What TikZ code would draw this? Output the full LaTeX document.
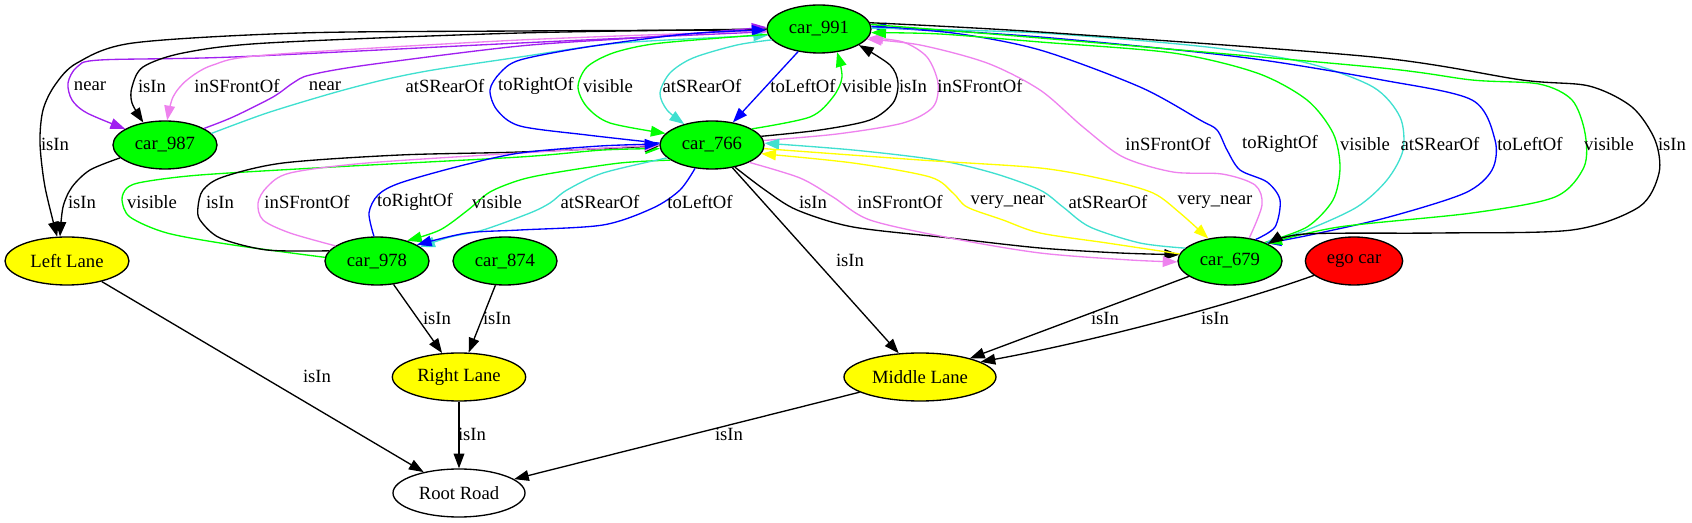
\documentclass[tikz,border=0pt]{standalone}
\usepackage{fontspec}
\setmainfont{Liberation Serif}
\usepackage{xcolor}
\usetikzlibrary{shapes.geometric, arrows.meta, positioning}
\definecolor{gvgreen}{HTML}{00FF00}
\definecolor{gvblue}{HTML}{0000FF}
\definecolor{gvpurple}{HTML}{A020F0}
\definecolor{gvviolet}{HTML}{EE82EE}
\definecolor{gvturq}{HTML}{40E0D0}
\definecolor{gvyellow}{HTML}{FFFF00}
\definecolor{gvred}{HTML}{FF0000}
\tikzstyle{car} = [ellipse, draw=black, line width=1pt, fill=gvgreen, minimum width=78pt, minimum height=36pt, inner sep=0pt]
\tikzstyle{lane} = [ellipse, draw=black, line width=1pt, fill=gvyellow, minimum height=36pt, inner sep=0pt]
\tikzstyle{road} = [ellipse, draw=black, line width=1pt, fill=white, minimum height=36pt, inner sep=0pt]
\tikzstyle{rel} = [line width=1pt, -{Triangle[length=11pt,width=8pt]}]
\tikzstyle{lbl} = [inner sep=0pt, text=black]

\begin{document}
\begin{tikzpicture}[x=0.75pt, y=-0.75pt, font=\fontsize{14}{17}\selectfont]
\useasboundingbox (0,0) rectangle (1692,523);

% nodes
\node (car991) [car] at (819,29) {car\_991};
\node (car987) [car] at (165,145) {car\_987};
\node (car766) [car] at (712,145) {car\_766};
\node (leftlane) [lane, minimum width=93pt] at (67,261) {Left Lane};
\node (car978) [car] at (377,261) {car\_978};
\node (car874) [car] at (505,261) {car\_874};
\node (car679) [car] at (1230,261) {car\_679};
\node (egocar) [car, fill=gvred, minimum width=73pt] at (1354,261) {ego car};
\node (rightlane) [lane, minimum width=100pt] at (459,377) {Right Lane};
\node (midlane) [lane, minimum width=114pt] at (920,377) {Middle Lane};
\node (rootroad) [road, minimum width=99pt] at (459,493) {Root Road};

% car_991 <-> car_987 and Left Lane
\draw [rel] plot[smooth] coordinates {(car991.181) (520,31) (300,33) (133,43) (77,63) (55,85) (43,110) (40,143) (45,187) (leftlane.112)} node[lbl] at (55,144) {isIn};
\draw [rel, gvpurple] plot[smooth] coordinates {(car991.183) (520,43) (233,57) (100,60) (77,67) (68,83) (72,100) (87,113) (car987.158)} node[lbl] at (90,86) {near};
\draw [rel] plot[smooth] coordinates {(car991.180) (520,33) (267,43) (183,53) (143,67) (132,87) (132,103) (car987.134)} node[lbl] at (152,86) {isIn};
\draw [rel, gvviolet] plot[smooth] coordinates {(car991.182) (520,40) (267,55) (213,65) (187,80) (173,97) (car987.85)} node[lbl] at (237,86) {inSFrontOf};
\draw [rel, gvpurple] plot[smooth] coordinates {(car987.23) (233,117) (273,97) (293,83) (310,75) (367,65) (520,46) (650,37) (car991.178)} node[lbl] at (325,86) {near};
\draw [rel, gvturq] plot[smooth] coordinates {(car987.14) (267,113) (333,93) (383,80) (433,70) (520,57) (620,43) (car991.187)} node[lbl] at (445,86) {atSRearOf};
\draw [rel] plot[smooth] coordinates {(car987.196) (90,170) (72,187) (63,207) (leftlane.106)} node[lbl] at (82,202) {isIn};

% car_991 <-> car_766
\draw [rel, gvblue] plot[smooth] coordinates {(car766.178) (587,135) (520,126) (497,110) (490,90) (500,73) (520,60) (587,47) (687,34) (car991.181)} node[lbl] at (536,86) {toRightOf};
\draw [rel, gvgreen] plot[smooth] coordinates {(car991.186) (720,38) (653,44) (613,53) (587,67) (578,87) (587,107) (610,123) (car766.166)} node[lbl] at (608,86) {visible};
\draw [rel, gvturq] plot[smooth] coordinates {(car991.193) (737,45) (693,58) (670,73) (660,93) (667,110) (car766.143)} node[lbl] at (702,86) {atSRearOf};
\draw [rel, gvblue] (car991) -- (car766) node[lbl] at (803,86) {toLeftOf};
\draw [rel, gvgreen] plot[smooth] coordinates {(car766.22) (810,117) (833,97) (842,77) (car991.308)} node[lbl] at (867,86) {visible};
\draw [rel] plot[smooth] coordinates {(car766.10) (820,130) (870,120) (893,103) (898,83) (890,65) (car991.338)} node[lbl] at (913,86) {isIn};
\draw [rel, gvviolet] plot[smooth] coordinates {(car766.5) (837,134) (903,123) (933,107) (938,83) (927,57) (903,42) (car991.350)} node[lbl] at (980,86) {inSFrontOf};

% car_978 <-> car_766
\draw [rel, gvgreen] plot[smooth] coordinates {(car978.176) (233,245) (167,233) (130,217) (122,200) (127,188) (143,182) (200,175) (333,167) (520,157) (603,150) (car766.184)} node[lbl] at (152,202) {visible};
\draw [rel] plot[smooth] coordinates {(car978.168) (267,250) (220,238) (200,220) (198,207) (203,190) (223,177) (283,163) (400,155) (520,152) (car766.181)} node[lbl] at (220,202) {isIn};
\draw [rel, gvviolet] plot[smooth] coordinates {(car978.160) (290,233) (263,220) (258,203) (267,187) (290,173) (367,163) (520,153) (car766.180)} node[lbl] at (307,202) {inSFrontOf};
\draw [rel, gvblue] plot[smooth] coordinates {(car978.97) (369,213) (378,195) (400,183) (460,166) (520,153) (600,146) (car766.179)} node[lbl] at (415,202) {toRightOf};
\draw [rel, gvgreen] plot[smooth] coordinates {(car766.200) (620,163) (553,173) (520,180) (490,192) (468,210) (440,230) (car978.34)} node[lbl] at (497,202) {visible};
\draw [rel, gvturq] plot[smooth] coordinates {(car766.196) (603,173) (567,190) (550,203) (530,213) (483,230) (450,237) (car978.18)} node[lbl] at (600,202) {atSRearOf};
\draw [rel, gvblue] plot[smooth] coordinates {(car766.234) (680,190) (653,208) (603,225) (520,230) (467,233) (car978.22)} node[lbl] at (700,202) {toLeftOf};

% car_766 <-> car_679
\draw [rel] (car766) -- (midlane) node[lbl] at (850,260) {isIn};
\draw [rel] plot[smooth] coordinates {(car766.316) (765,190) (797,210) (853,227) (950,238) (1040,248) (1120,253) (car679.173)} node[lbl] at (813,202) {isIn};
\draw [rel, gvviolet] plot[smooth] coordinates {(car766.335) (800,178) (833,197) (870,220) (950,238) (1040,253) (1130,260) (car679.181)} node[lbl] at (900,202) {inSFrontOf};
\draw [rel, gvyellow] plot[smooth] coordinates {(car679.172) (1107,243) (1040,233) (1003,220) (967,207) (953,193) (930,177) (853,163) (car766.350)} node[lbl] at (1008,202) {very\_near};
\draw [rel, gvturq] plot[smooth] coordinates {(car679.164) (1140,243) (1090,227) (1063,207) (1040,190) (993,173) (937,160) (853,150) (car766.2)} node[lbl] at (1108,202) {atSRearOf};
\draw [rel, gvyellow] plot[smooth] coordinates {(car766.356) (920,160) (1040,168) (1107,180) (1153,193) (1180,213) (car679.134)} node[lbl] at (1215,202) {very\_near};

% car_991 <-> car_679
\draw [rel, gvviolet] plot[smooth] coordinates {(car679.50) (1262,205) (1255,185) (1222,174) (1173,172) (1123,157) (1083,127) (1040,90) (987,63) (920,45) (car991.348)} node[lbl] at (1168,144) {inSFrontOf};
\draw [rel, gvblue] plot[smooth] coordinates {(car679.40) (1275,227) (1280,200) (1267,182) (1240,170) (1227,150) (1217,130) (1200,120) (1140,87) (1040,50) (953,33) (car991.2)} node[lbl] at (1280,144) {toRightOf};
\draw [rel, gvgreen] plot[smooth] coordinates {(car679.28) (1307,227) (1333,200) (1340,167) (1333,133) (1307,100) (1257,73) (1173,53) (1040,42) (940,34) (car991.356)} node[lbl] at (1365,144) {visible};
\draw [rel, gvturq] plot[smooth] coordinates {(car991.1) (1040,33) (1207,47) (1307,63) (1373,87) (1400,117) (1403,150) (1387,180) (1357,207) (1307,230) (car679.27)} node[lbl] at (1440,144) {atSRearOf};
\draw [rel, gvblue] plot[smooth] coordinates {(car991.3) (1040,37) (1240,57) (1382,80) (1472,100) (1495,140) (1492,170) (1465,193) (1389,217) (1310,235) (car679.26)} node[lbl] at (1530,144) {toLeftOf};
\draw [rel, gvgreen] plot[smooth] coordinates {(car991.5) (1040,38) (1372,67) (1472,80) (1539,84) (1572,100) (1585,133) (1584,167) (1555,197) (1472,213) (1339,227) (car679.25)} node[lbl] at (1609,144) {visible};
\draw [rel] plot[smooth] coordinates {(car991.7) (1040,32) (1373,57) (1522,80) (1589,86) (1632,107) (1655,140) (1659,173) (1639,207) (1572,230) (1439,233) (1305,234) (car679.24)} node[lbl] at (1672,144) {isIn};

% lanes and road
\draw [rel] (leftlane) -- (rootroad) node[lbl] at (317,376) {isIn};
\draw [rel] (car978) -- (rightlane) node[lbl] at (437,318) {isIn};
\draw [rel] (car874) -- (rightlane) node[lbl] at (497,318) {isIn};
\draw [rel] (rightlane) -- (rootroad) node[lbl] at (472,434) {isIn};
\draw [rel] (midlane) -- (rootroad) node[lbl] at (729,434) {isIn};
\draw [rel] (car679) -- (midlane) node[lbl] at (1105,318) {isIn};
\draw [rel] (egocar) .. controls (1240,302) and (1100,340) .. (midlane.14) node[lbl] at (1215,318) {isIn};
\end{tikzpicture}
\end{document}
